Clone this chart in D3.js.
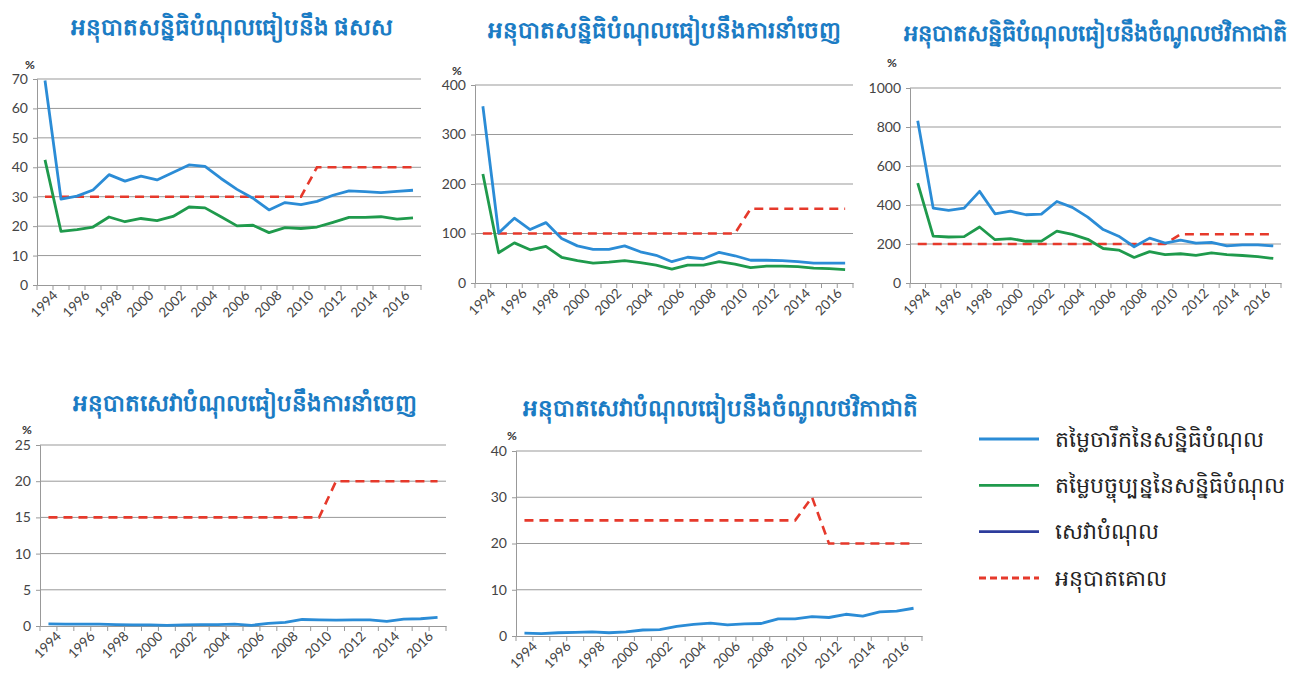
<!DOCTYPE html>
<html>
<head>
<meta charset="utf-8">
<script src="https://cdn.jsdelivr.net/npm/d3@7"></script>
<style>
  body { margin: 0; background: #fff; }
  svg { display: block; }
  .tick text { font-family: Lato, "Open Sans", sans-serif; fill: #444; }
</style>
</head>
<body>
<div class="debt-plot"></div>
<script>
// categories
const years = ['1994','1995','1996','1997','1998','1999','2000','2001','2002','2003','2004','2005',
  '2006','2007','2008','2009','2010','2011','2012','2013','2014','2015','2016','2017'];
const yearLabels = ['1994','1996','1998','2000','2002','2004','2006','2008','2010','2012','2014','2016'];

// debt stock / GDP (%)
const gdpNominal = [69.5, 29.2, 30.2, 32.3, 37.5, 35.3, 37, 35.7, 38.2, 40.8, 40.3, 36.2, 32.5, 29.5, 25.5, 28, 27.3, 28.4, 30.5, 32, 31.7, 31.4, 31.8, 32.2];
const gdpPV = [42.5, 18.2, 18.8, 19.7, 23.1, 21.5, 22.6, 21.9, 23.3, 26.5, 26.2, 23.2, 20.1, 20.3, 17.8, 19.5, 19.2, 19.7, 21.3, 23, 23, 23.2, 22.4, 22.8];
const gdpThreshold = [30,30,30,30,30,30,30,30,30,30,30,30,30,30,30,30,30, 40,40,40,40,40,40,40];

// debt stock / exports (%)
const exportNominal = [357, 101, 131, 108, 122, 90, 75, 68, 68, 75, 63, 56, 43, 52, 49, 62, 55, 46, 46, 45, 43, 40, 40, 40];
const exportPV = [220, 61, 81, 67, 74, 52, 45, 40, 42, 45, 41, 36, 28, 36, 36, 43, 38, 31, 34, 34, 33, 30, 29, 27];
const exportThreshold = [100,100,100,100,100,100,100,100,100,100,100,100,100,100,100,100,100, 150,150,150,150,150,150,150];

// debt stock / national revenue (%)
const revenueNominal = [832, 384, 372, 384, 470, 355, 368, 350, 353, 418, 388, 338, 274, 240, 186, 230, 205, 220, 205, 208, 190, 196, 195, 190];
const revenuePV = [512, 240, 236, 238, 287, 222, 228, 214, 215, 266, 249, 224, 177, 169, 131, 161, 145, 150, 142, 154, 146, 141, 135, 126];
const revenueThreshold = [200,200,200,200,200,200,200,200,200,200,200,200,200,200,200,200,200, 250,250,250,250,250,250,250];

// debt service / exports (%)
const serviceExport = [0.3, 0.25, 0.25, 0.25, 0.2, 0.15, 0.15, 0.1, 0.15, 0.2, 0.2, 0.25, 0.1, 0.35, 0.5, 0.9, 0.85, 0.8, 0.85, 0.85, 0.65, 0.95, 1.0, 1.2];
const serviceExportThreshold = [15,15,15,15,15,15,15,15,15,15,15,15,15,15,15,15,15, 20,20,20,20,20,20,20];

// debt service / national revenue (%)
const serviceRevenue = [0.6, 0.5, 0.7, 0.8, 0.9, 0.7, 0.9, 1.3, 1.4, 2.1, 2.5, 2.8, 2.4, 2.6, 2.7, 3.7, 3.7, 4.2, 4.0, 4.7, 4.3, 5.2, 5.4, 6.0];
const serviceRevenueThreshold = [25,25,25,25,25,25,25,25,25,25,25,25,25,25,25,25,25, 30, 20,20,20,20,20,20];

const legendNames = ['តម្លៃចារឹកនៃសន្និធិបំណុល', 'តម្លៃបច្ចុប្បន្ននៃសន្និធិបំណុល', 'សេវាបំណុល', 'អនុបាតគោល'];

const blue = '#2b8cd6', green = '#1f9a4c', navy = '#2d3c9c', red = '#e6392b';

const width = 1316, height = 678;
const svg = d3.select('.debt-plot').append('svg')
  .attr('width', width).attr('height', height);

const charts = [
  { title: 'អនុបាតសន្និធិបំណុលធៀបនឹង ផសស', tx: 232, ty: 35, fs: 23,
    l: 37, r: 421, t: 79, b: 285, ticks: [0,10,20,30,40,50,60,70], pct: [25, 69],
    lines: [[gdpNominal, blue], [gdpPV, green]], thr: gdpThreshold },
  { title: 'អនុបាតសន្និធិបំណុលធៀបនឹងការនាំចេញ', tx: 664, ty: 38, fs: 23,
    l: 475, r: 853, t: 85, b: 283, ticks: [0,100,200,300,400], pct: [452, 75],
    lines: [[exportNominal, blue], [exportPV, green]], thr: exportThreshold },
  { title: 'អនុបាតសន្និធិបំណុលធៀបនឹងចំណូលថវិកាជាតិ', tx: 1095, ty: 41, fs: 22.5,
    l: 910, r: 1281, t: 88, b: 283, ticks: [0,200,400,600,800,1000], pct: [887, 67],
    lines: [[revenueNominal, blue], [revenuePV, green]], thr: revenueThreshold },
  { title: 'អនុបាតសេវាបំណុលធៀបនឹងការនាំចេញ', tx: 245, ty: 411, fs: 23,
    l: 40, r: 446, t: 445, b: 626, ticks: [0,5,10,15,20,25], pct: [22, 434],
    lines: [[serviceExport, blue]], thr: serviceExportThreshold },
  { title: 'អនុបាតសេវាបំណុលធៀបនឹងចំណូលថវិកាជាតិ', tx: 720, ty: 416, fs: 23,
    l: 516, r: 922, t: 451, b: 636, ticks: [0,10,20,30,40], pct: [507, 440],
    lines: [[serviceRevenue, blue]], thr: serviceRevenueThreshold }
];

charts.forEach(c => {
  const g = svg.append('g');
  const x = d3.scalePoint().domain(years).range([c.l, c.r]).padding(0.5);
  const xb = d3.scaleBand().domain(years).range([c.l, c.r]);
  const y = d3.scaleLinear().domain([0, d3.max(c.ticks)]).range([c.b, c.t]);

  g.append('text')
    .attr('x', c.tx).attr('y', c.ty)
    .attr('text-anchor', 'middle')
    .attr('font-size', c.fs).attr('font-weight', 'bold')
    .attr('fill', '#1b7cc4')
    .text(c.title);

  g.append('text')
    .attr('x', c.pct[0]).attr('y', c.pct[1])
    .attr('font-size', 12).attr('font-weight', 'bold')
    .attr('font-family', 'Lato, sans-serif').attr('fill', '#333')
    .text('%');

  // gridlines
  g.selectAll('line.grid')
    .data(c.ticks.filter(v => v > 0))
    .enter().append('line')
    .attr('x1', c.l).attr('x2', c.r)
    .attr('y1', d => y(d)).attr('y2', d => y(d))
    .attr('stroke', '#999').attr('stroke-width', 1);

  // y axis
  const ya = g.append('g')
    .attr('transform', `translate(${c.l},0)`)
    .call(d3.axisLeft(y).tickValues(c.ticks).tickFormat(d3.format('d')).tickSize(4).tickPadding(5));
  ya.select('.domain').attr('stroke', '#999');
  ya.selectAll('.tick line').attr('stroke', '#999');
  ya.selectAll('.tick text').attr('font-size', 14);

  // x axis with ticks between categories
  const xa = g.append('g')
    .attr('transform', `translate(0,${c.b})`)
    .call(d3.axisBottom(x).tickValues(yearLabels).tickSize(0).tickPadding(11));
  xa.select('.domain').attr('stroke', '#999');
  xa.selectAll('.tick text')
    .attr('font-size', 13.5)
    .attr('text-anchor', 'end')
    .attr('transform', 'rotate(-45)')
    .attr('dx', '0.1em').attr('dy', '0.45em');
  g.selectAll('line.xtick')
    .data(years.concat(['end']))
    .enter().append('line')
    .attr('x1', d => d === 'end' ? c.r : xb(d))
    .attr('x2', d => d === 'end' ? c.r : xb(d))
    .attr('y1', c.b).attr('y2', c.b + 5)
    .attr('stroke', '#999');

  const line = d3.line().x((d, i) => x(years[i])).y(d => y(d));

  g.append('path')
    .datum(c.thr)
    .attr('d', line)
    .attr('fill', 'none')
    .attr('stroke', red).attr('stroke-width', 2.6)
    .attr('stroke-dasharray', '9,6');

  c.lines.forEach(([vals, col]) => {
    g.append('path')
      .datum(vals)
      .attr('d', line)
      .attr('fill', 'none')
      .attr('stroke', col).attr('stroke-width', 2.8)
      .attr('stroke-linejoin', 'round');
  });
});

// legend
const legendColors = [blue, green, navy, red];
const lg = svg.append('g');
const ly = d3.scalePoint().domain(legendNames).range([439, 578]);
legendNames.forEach((name, i) => {
  lg.append('line')
    .attr('x1', 979).attr('x2', 1039)
    .attr('y1', ly(name)).attr('y2', ly(name))
    .attr('stroke', legendColors[i]).attr('stroke-width', 2.8)
    .attr('stroke-dasharray', i === 3 ? '7,4' : null);
  lg.append('text')
    .attr('x', 1055).attr('y', ly(name))
    .attr('dy', '0.35em')
    .attr('font-size', 22)
    .attr('fill', '#222')
    .text(name);
});
</script>
</body>
</html>
